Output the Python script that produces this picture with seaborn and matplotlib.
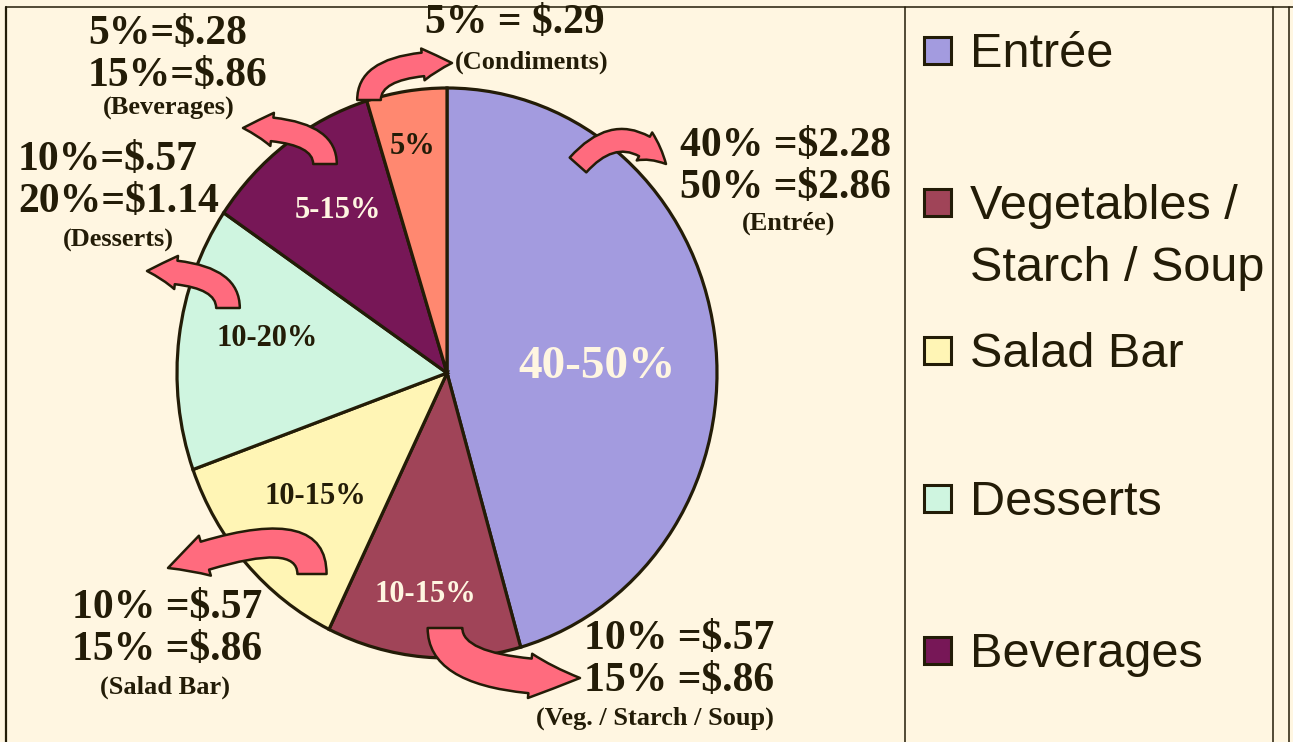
import matplotlib.pyplot as plt
import seaborn as sns
from matplotlib.patches import FancyArrowPatch, Rectangle
from matplotlib.lines import Line2D

# --- data ---
categories = ['Entrée', 'Vegetables /\nStarch / Soup', 'Salad Bar', 'Desserts', 'Beverages', 'Condiments']
shares = [45.6, 11.6, 12.3, 15.0, 10.7, 4.8]
share_labels = ['40-50%', '10-15%', '10-15%', '10-20%', '5-15%', '5%']
colors = ['#A39BDF', '#A04458', '#FFF5B5', '#CFF5E0', '#771757', '#FF8870']
cost_lines = ['40% =$2.28\n50% =$2.86', '10% =$.57\n15% =$.86', '10% =$.57\n15% =$.86',
              '10%=$.57\n20%=$1.14', '5%=$.28\n15%=$.86', '5% = $.29']
cost_names = ['(Entrée)', '(Veg. / Starch / Soup)', '(Salad Bar)', '(Desserts)',
              '(Beverages)', '(Condiments)']
legend_count = 5

# --- layout (pixels from the top-left corner) ---
W, H = 1293, 742
CX, CY, RX, RY = 447, 373, 270, 285
DARK = '#231C07'
CREAM = '#FFF6E1'
PINK = '#FF6B7E'

label_pos = [(597, 367), (425, 594), (315, 497), (267, 339), (338, 211), (413, 147)]
label_col = [CREAM, CREAM, DARK, DARK, CREAM, DARK]
label_size = [34, 22, 22, 22, 22, 22]
cost_pos = [(680, 167), (584, 660), (72, 629), (18, 181), (88, 55), (425, 23)]
name_pos = [(789, 223), (655, 718), (165, 687), (118, 240), (169, 108), (532, 62)]
arrows = [  # start, end, connection, tail, head width, head length (pt)
    ((578, 165), (666, 164), 'arc3,rad=-0.55', 16, 23, 20),
    ((445, 628), (580, 678), 'angle3,angleA=90,angleB=0', 25, 32, 36),
    ((312, 574), (168, 568), 'angle3,angleA=90,angleB=20', 21, 30, 28),
    ((228, 308), (147, 271), 'angle3,angleA=90,angleB=0', 17, 24, 21),
    ((325, 164), (243, 128), 'angle3,angleA=90,angleB=0', 17, 24, 21),
    ((369, 100), (452, 63), 'angle3,angleA=90,angleB=0', 17, 23, 21),
]
legend_y = [50, 202, 350, 498, 650]
legend_line_gap = 62


def fp(x, y):
    return x / W, 1 - y / H


sns.set_theme(style='white')
plt.rcParams['font.family'] = ['Liberation Serif', 'DejaVu Serif']

fig = plt.figure(figsize=(W / 100, H / 100), dpi=100, facecolor=CREAM)
ax = fig.add_axes([0, 0, 1, 1])
ax.patch.set_alpha(0)

palette = sns.color_palette(colors)
ax.pie(shares, colors=palette, startangle=90, counterclock=False,
       wedgeprops=dict(edgecolor=DARK, linewidth=2.3))
ax.set_aspect('auto')
ax.set_xlim(-CX / RX, (W - CX) / RX)
ax.set_ylim(-(H - CY) / RY, CY / RY)
ax.axis('off')

# frame lines
for x in [6, 905, 1273, 1289]:
    fig.add_artist(Line2D([x / W, x / W], [0, 1 - 7 / H], color=DARK,
                          lw=1.6 if x == 6 else 1.1, transform=fig.transFigure))
fig.add_artist(Line2D([6 / W, 1], [1 - 7 / H, 1 - 7 / H], color=DARK, lw=1.1,
                      transform=fig.transFigure))

# wedge labels
for txt, (x, y), c, s in zip(share_labels, label_pos, label_col, label_size):
    fig.text(*fp(x, y), txt, color=c, fontsize=s, fontweight='bold',
             ha='center', va='center')

# callout arrows
for (p0, p1, conn, tw, hw, hl) in arrows:
    arr = FancyArrowPatch(fp(*p0), fp(*p1), transform=fig.transFigure,
                          connectionstyle=conn,
                          arrowstyle=f'simple,tail_width={tw},head_width={hw},head_length={hl}',
                          mutation_scale=1, shrinkA=0, shrinkB=0,
                          facecolor=PINK, edgecolor=DARK, linewidth=1.8, zorder=5)
    fig.add_artist(arr)

# cost callouts
for txt, (x, y) in zip(cost_lines, cost_pos):
    fig.text(*fp(x, y), txt, color=DARK, fontsize=30, fontweight='bold',
             ha='left', va='center', linespacing=1.13)
for txt, (x, y) in zip(cost_names, name_pos):
    fig.text(*fp(x, y), txt, color=DARK, fontsize=19, fontweight='bold',
             ha='center', va='center')

# legend panel
for name, c, y in zip(categories[:legend_count], colors[:legend_count], legend_y):
    fig.add_artist(Rectangle(fp(924, y + 14), 27 / W, 27 / H, facecolor=c,
                             edgecolor=DARK, linewidth=2.2, transform=fig.transFigure))
    for i, line in enumerate(name.split('\n')):
        fig.text(*fp(970, y + 17 + i * legend_line_gap), line, color=DARK, fontsize=35,
                 family=['Liberation Sans', 'DejaVu Sans'], ha='left', va='baseline')

fig.savefig('out.png', dpi=100, facecolor=CREAM)
